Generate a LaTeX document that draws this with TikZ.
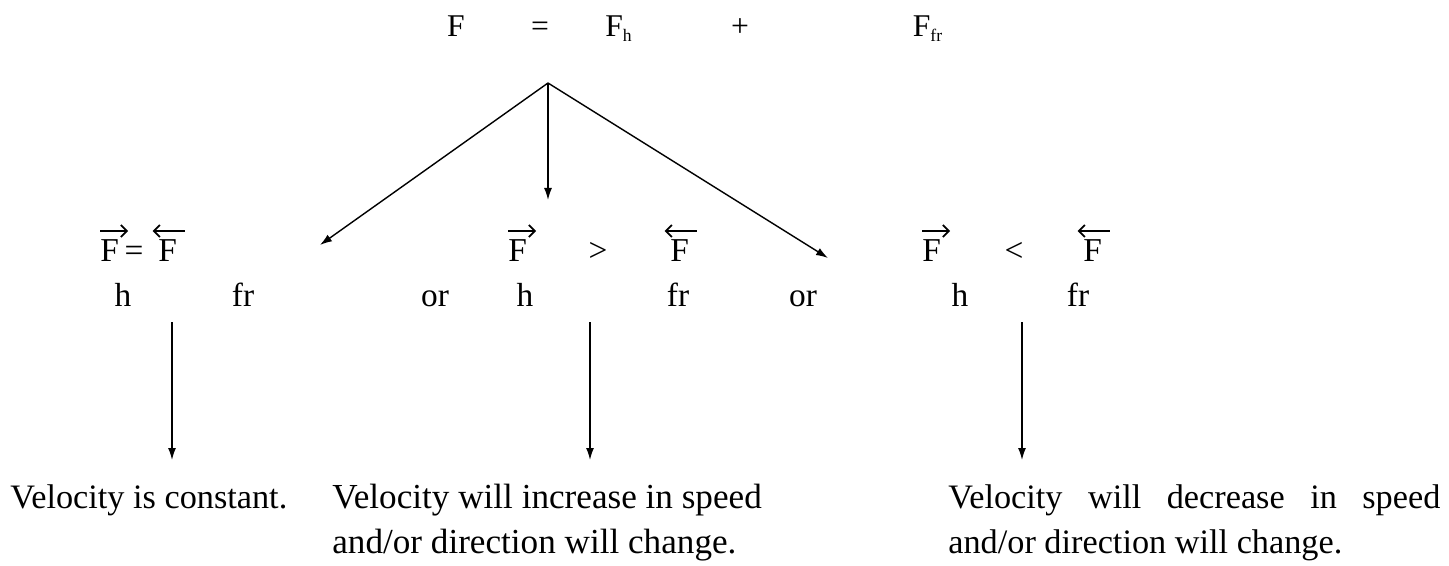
\documentclass[tikz,border=0pt]{standalone}
\usepackage{fontspec}
\setmainfont{Liberation Serif}
\usetikzlibrary{positioning, arrows.meta}

\begin{document}
\begin{tikzpicture}[
  term/.style={
    inner sep=0pt,
    anchor=base,
    font=\fontsize{19}{24}\selectfont
  },
  vterm/.style={
    term,
    anchor=base west
  },
  topterm/.style={
    term,
    font=\fontsize{18}{22}\selectfont
  },
  result/.style={
    inner sep=0pt,
    anchor=base west,
    align=left,
    font=\fontsize{19.5}{25.6}\selectfont
  },
  arrow/.style={
    -{Latex[length=2.4mm, width=1.6mm]},
    line width=0.8pt
  },
  vecarrow/.style={
    -{Straight Barb[length=1.2mm, width=2.4mm]},
    line width=1pt
  }
]
\useasboundingbox (0,0) rectangle (28.98,-11.32);

% top equation
\node[topterm]                   (Fsum)  at (9.12,-0.74)  {F};
\node[topterm]                   (eqtop) at (10.80,-0.74) {=};
\node[topterm, anchor=base west] (Fh)    at (12.10,-0.74) {F\raisebox{-0.3ex}{\fontsize{10}{11}\selectfont h}};
\node[topterm]                   (plus)  at (14.80,-0.74) {+};
\node[topterm, anchor=base west] (Ffr)   at (18.25,-0.74) {F\raisebox{-0.3ex}{\fontsize{10}{11}\selectfont fr}};

\coordinate (split) at (10.96,-1.66);
\coordinate (eqend)  at (6.40,-4.90);
\coordinate (gtend)  at (10.96,-4.00);
\coordinate (ltend)  at (16.56,-5.16);

% three cases
\node[vterm] (hvecA)  at (2.00,-5.24)  {F};
\node[term]  (eqmid)  at (2.68,-5.24)  {=};
\node[vterm] (frvecA) at (3.16,-5.24)  {F};
\node[term]  (hA)     at (2.46,-6.14)  {h};
\node[term]  (frA)    at (4.86,-6.14)  {fr};

\node[term]  (orA)    at (8.70,-6.14)  {or};
\node[vterm] (hvecB)  at (10.16,-5.24) {F};
\node[term]  (gt)     at (11.96,-5.24) {>};
\node[vterm] (frvecB) at (13.40,-5.24) {F};
\node[term]  (hB)     at (10.50,-6.14) {h};
\node[term]  (frB)    at (13.56,-6.14) {fr};
\node[term]  (orB)    at (16.06,-6.14) {or};

\node[vterm] (hvecC)  at (18.44,-5.24) {F};
\node[term]  (lt)     at (20.28,-5.24) {<};
\node[vterm] (frvecC) at (21.66,-5.24) {F};
\node[term]  (hC)     at (19.20,-6.14) {h};
\node[term]  (frC)    at (21.56,-6.14) {fr};

% vector marks over the forces
\foreach \v in {hvecA, hvecB, hvecC}
  \draw[vecarrow] ([yshift=5pt]\v.north west) -- ++(0.56,0);
\foreach \v in {frvecA, frvecB, frvecC}
  \draw[vecarrow] ([xshift=-3pt, yshift=5pt]\v.north west) ++(0.64,0) -- ++(-0.64,0);

\draw[arrow] (split) -- (eqend);
\draw[arrow] (split) -- (gtend);
\draw[arrow] (split) -- (ltend);

% outcomes
\node[result] (constvel) at (0.20,-10.16)  {Velocity is constant.};
\node[result, font=\fontsize{20}{25.6}\selectfont] (incvel) at (6.64,-11.06) {Velocity will increase in speed\\and/or direction will change.};
\node[result] (decvel)   at (18.96,-11.06) {\makebox[9.84cm][s]{Velocity will decrease in speed}\\and/or direction will change.};

\coordinate (downA) at (3.44,-6.44);
\coordinate (downB) at (11.80,-6.44);
\coordinate (downC) at (20.44,-6.44);
\draw[arrow] (downA) -- (downA |- 0,-9.20);
\draw[arrow] (downB) -- (downB |- 0,-9.20);
\draw[arrow] (downC) -- (downC |- 0,-9.20);

\end{tikzpicture}
\end{document}
